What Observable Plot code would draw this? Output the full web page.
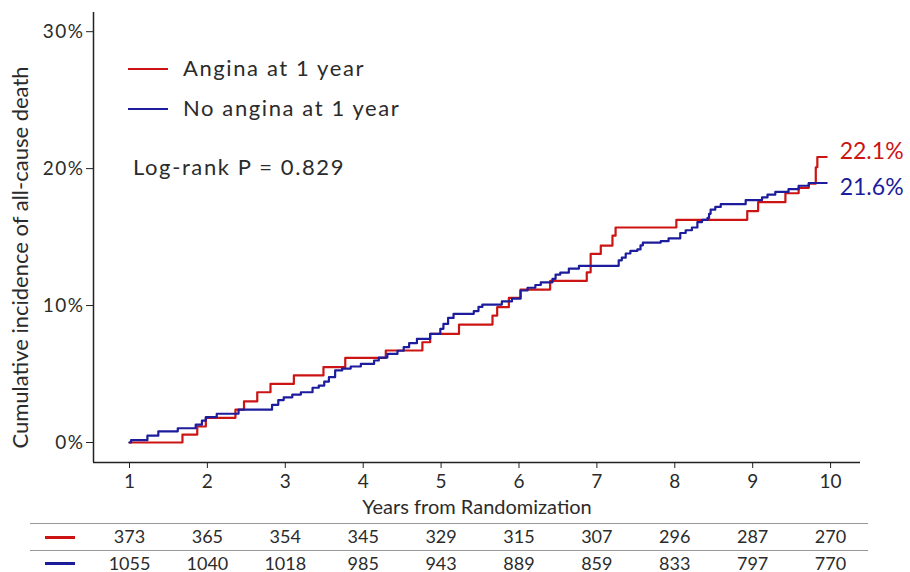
<!DOCTYPE html>
<html>
<head>
<meta charset="utf-8">
<script src="https://cdn.jsdelivr.net/npm/d3@7"></script>
<script src="https://cdn.jsdelivr.net/npm/@observablehq/plot@0.6"></script>
<style>
  html, body { margin: 0; padding: 0; background: #fff; }
  #wrap { position: relative; width: 910px; height: 572px; font-family: Lato, "Noto Sans", sans-serif; color: #2b2b2b; }
  #wrap svg { display: block; }
  .lg { position: absolute; font-size: 22px; letter-spacing: 1.6px; color: #2b2b2b; white-space: nowrap; line-height: 1; }
  .sw { position: absolute; height: 2px; }
</style>
</head>
<body>
<div id="wrap"></div>
<script>
// ---------------- data ----------------
const groups = ["Angina at 1 year", "No angina at 1 year"];
const colors = ["#cc1414", "#1c1c9c"];
const endLabels = ["22.1%", "21.6%"];
const pValueText = "Log-rank P = 0.829";
const xTicks = [1, 2, 3, 4, 5, 6, 7, 8, 9, 10];
const yTicks = [0, 10, 20, 30];
const xLabel = "Years from Randomization";
const yLabel = "Cumulative incidence of all-cause death";

// step-change times (years) and cumulative incidence (%)
const anginaT   = [1.00, 1.68, 1.87, 1.98, 2.36, 2.47, 2.64, 2.81, 3.11, 3.49, 3.77, 4.29, 4.76, 4.86, 5.23, 5.66, 5.72, 5.87, 6.02, 6.40, 6.87, 6.92, 7.05, 7.20, 7.24, 8.02, 8.93, 9.07, 9.42, 9.59, 9.72, 9.81, 9.83, 9.95];
const anginaPct = [0.00, 0.58, 1.17, 1.80, 2.40, 3.00, 3.67, 4.28, 4.90, 5.50, 6.18, 6.72, 7.32, 7.93, 8.61, 9.27, 9.88, 10.56, 11.17, 11.80, 12.43, 13.77, 14.38, 15.10, 15.70, 16.26, 16.90, 17.55, 18.20, 18.60, 18.90, 20.10, 20.85, 20.85];

const noAnginaT   = [1.00, 1.02, 1.23, 1.37, 1.62, 1.85, 1.93, 1.98, 2.12, 2.40, 2.83, 2.91, 2.98, 3.09, 3.20, 3.35, 3.43, 3.50, 3.56, 3.64, 3.73, 3.84, 3.97, 4.14, 4.20, 4.31, 4.44, 4.52, 4.59, 4.69, 4.86, 4.99, 5.03, 5.09, 5.16, 5.42, 5.48, 5.53, 5.78, 5.91, 6.02, 6.11, 6.21, 6.28, 6.43, 6.47, 6.53, 6.64, 6.77, 7.28, 7.32, 7.37, 7.43, 7.52, 7.56, 7.59, 7.82, 7.92, 8.07, 8.14, 8.22, 8.29, 8.35, 8.42, 8.44, 8.46, 8.52, 8.59, 8.91, 9.12, 9.19, 9.29, 9.46, 9.59, 9.72, 9.95];
const noAnginaPct = [0.00, 0.17, 0.50, 0.82, 1.04, 1.30, 1.60, 1.85, 2.10, 2.40, 2.75, 3.10, 3.30, 3.50, 3.67, 4.00, 4.16, 4.45, 4.77, 5.26, 5.40, 5.55, 5.74, 5.99, 6.20, 6.47, 6.70, 6.96, 7.25, 7.57, 7.93, 8.30, 8.66, 9.10, 9.40, 9.60, 9.90, 10.07, 10.30, 10.50, 11.10, 11.30, 11.50, 11.70, 11.95, 12.26, 12.40, 12.70, 12.90, 13.30, 13.50, 13.80, 14.00, 14.10, 14.40, 14.60, 14.70, 14.90, 15.30, 15.50, 15.70, 16.10, 16.25, 16.40, 16.70, 17.00, 17.20, 17.40, 17.70, 17.90, 18.10, 18.30, 18.50, 18.75, 18.95, 18.95];

// numbers at risk
const riskAngina   = [373, 365, 354, 345, 329, 315, 307, 296, 287, 270];
const riskNoAngina = [1055, 1040, 1018, 985, 943, 889, 859, 833, 797, 770];

// ---------------- build ----------------
const curves = [
  ...anginaT.map((t, i) => ({t, p: anginaPct[i], g: groups[0]})),
  ...noAnginaT.map((t, i) => ({t, p: noAnginaPct[i], g: groups[1]}))
];
const ends = [
  {t: anginaT[anginaT.length - 1], p: anginaPct[anginaPct.length - 1], g: groups[0], label: endLabels[0]},
  {t: noAnginaT[noAnginaT.length - 1], p: noAnginaPct[noAnginaPct.length - 1], g: groups[1], label: endLabels[1]}
];

const xDomain = [0.538, 10.384];
const yDomain = [-1.46, 31.4];
const color = {domain: groups, range: colors};
const ink = "#2b2b2b";

const wrap = document.getElementById("wrap");

const main = Plot.plot({
  width: 910,
  height: 520,
  marginLeft: 93,
  marginRight: 50,
  marginTop: 12,
  marginBottom: 58,
  style: {fontFamily: "Lato, 'Noto Sans', sans-serif", color: ink, background: "#fff"},
  x: {domain: xDomain},
  y: {domain: yDomain},
  color,
  marks: [
    Plot.axisY({ticks: yTicks, tickFormat: d => d + "%", tickSize: 7, tickPadding: 2, fontSize: 19, label: null, stroke: "#222"}),
    Plot.axisX({ticks: xTicks, tickFormat: d => String(d), tickSize: 6, tickPadding: 6, fontSize: 19, label: null, stroke: "#222"}),
    Plot.ruleX([xDomain[0]], {stroke: "#222", strokeWidth: 1.5}),
    Plot.ruleY([yDomain[0]], {stroke: "#222", strokeWidth: 1.5}),
    Plot.line(curves, {x: "t", y: "p", z: "g", stroke: "g", curve: "step-after", strokeWidth: 2.2}),
    Plot.text([ends[0]], {x: "t", y: "p", text: "label", fill: "g", dx: 13, dy: -5, textAnchor: "start", fontSize: 23, ariaLabel: "endlabel"}),
    Plot.text([ends[1]], {x: "t", y: "p", text: "label", fill: "g", dx: 13, dy: 5, textAnchor: "start", fontSize: 23, ariaLabel: "endlabel"}),
    Plot.text([xLabel], {frameAnchor: "bottom", lineAnchor: "middle", dy: 45, fontSize: 20, fill: ink, ariaLabel: "xtitle"}),
    Plot.text([yLabel], {frameAnchor: "left", dx: -73, dy: 20, rotate: -90, textAnchor: "middle", fontSize: 22, fill: ink, ariaLabel: "ytitle"})
  ]
});
main.querySelectorAll('g[aria-label="endlabel"] text').forEach(t => t.style.letterSpacing = "2.5px");
main.querySelectorAll('g[aria-label="xtitle"] text').forEach(t => t.style.letterSpacing = "1.3px");
main.querySelectorAll('g[aria-label="ytitle"] text').forEach(t => t.style.letterSpacing = "2px");
main.querySelectorAll('g[aria-label="y-axis tick label"] text').forEach(t => t.style.letterSpacing = "1.5px");
wrap.appendChild(main);

// risk table
const riskRows = [
  ...xTicks.map((t, i) => ({t, row: 0.5, n: riskAngina[i]})),
  ...xTicks.map((t, i) => ({t, row: 1.5, n: riskNoAngina[i]}))
];
const table = Plot.plot({
  width: 910,
  height: 52,
  marginLeft: 30,
  marginRight: 42,
  marginTop: 0,
  marginBottom: 0,
  style: {fontFamily: "Lato, 'Noto Sans', sans-serif", color: ink, background: "#fff", overflow: "visible"},
  x: {domain: [1, 10], range: [129, 830], axis: null},
  y: {domain: [0, 2], range: [3, 57], axis: null},
  marks: [
    Plot.ruleY([0, 1], {stroke: "#999", strokeWidth: 1}),
    Plot.text(riskRows, {x: "t", y: "row", text: d => String(d.n), fontSize: 18, fill: ink})
  ]
});
wrap.appendChild(table);

// legend & annotation overlays
const legendY = [69, 109];
groups.forEach((g, i) => {
  const sw = document.createElement("div");
  sw.className = "sw";
  sw.style.cssText = `left:128px;top:${legendY[i] - 1}px;width:40px;background:${colors[i]}`;
  wrap.appendChild(sw);
  const tx = document.createElement("div");
  tx.className = "lg";
  tx.style.cssText = `left:183px;top:${legendY[i] - 12}px`;
  tx.textContent = g;
  wrap.appendChild(tx);
  const ts = document.createElement("div");
  ts.className = "sw";
  ts.style.cssText = `left:45px;top:${[536, 562][i]}px;width:30px;height:3px;background:${colors[i]}`;
  wrap.appendChild(ts);
});
const pv = document.createElement("div");
pv.className = "lg";
pv.style.cssText = "left:133px;top:156px";
pv.textContent = pValueText;
wrap.appendChild(pv);
</script>
</body>
</html>
